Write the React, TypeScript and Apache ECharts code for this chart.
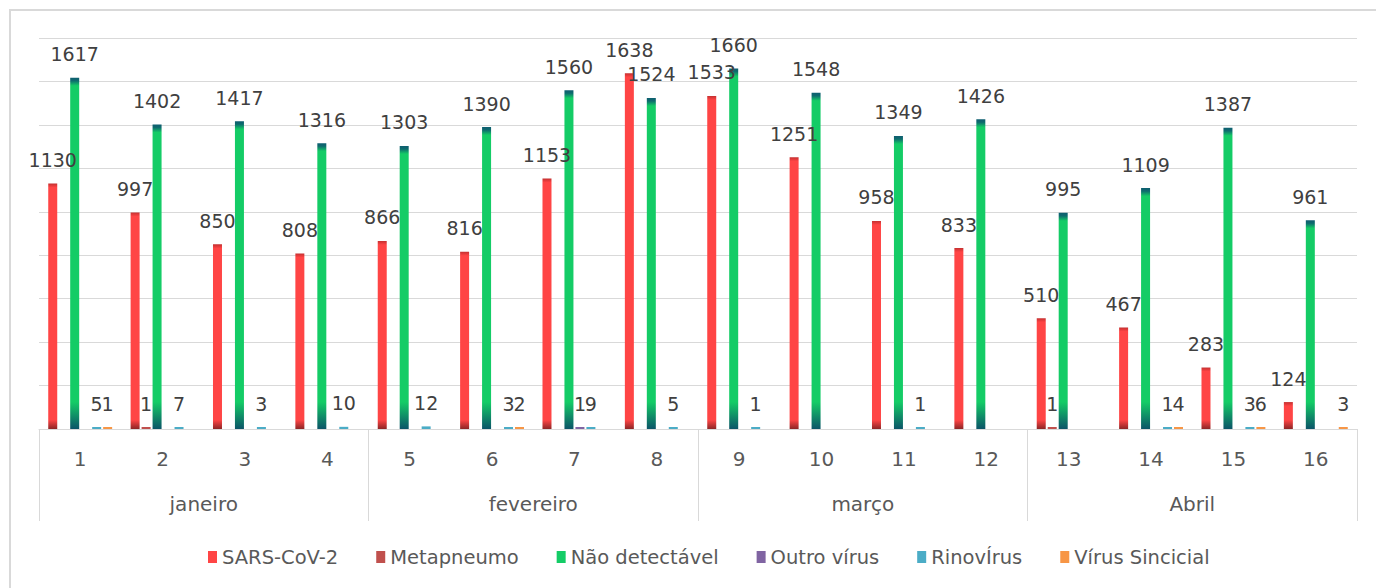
import React, { useEffect, useRef } from "react";
import * as echarts from "echarts";

const weeks = ["1", "2", "3", "4", "5", "6", "7", "8", "9", "10", "11", "12", "13", "14", "15", "16"];
const months = ["janeiro", "fevereiro", "março", "Abril"];
const seriesNames = ["SARS-CoV-2", "Metapneumo", "Não detectável", "Outro vírus", "RinovÍrus", "Vírus Sincicial"];

const sarsCov2 = [1130, 997, 850, 808, 866, 816, 1153, 1638, 1533, 1251, 958, 833, 510, 467, 283, 124];
const metapneumo = [0, 1, 0, 0, 0, 0, 0, 0, 0, 0, 0, 0, 1, 0, 0, 0];
const naoDetectavel = [1617, 1402, 1417, 1316, 1303, 1390, 1560, 1524, 1660, 1548, 1349, 1426, 995, 1109, 1387, 961];
const outroVirus = [0, 0, 0, 0, 0, 0, 1, 0, 0, 0, 0, 0, 0, 0, 0, 0];
const rinovirus = [5, 7, 3, 10, 12, 3, 9, 5, 1, 0, 1, 0, 0, 1, 3, 0];
const virusSincicial = [1, 0, 0, 0, 0, 2, 0, 0, 0, 0, 0, 0, 0, 4, 6, 3];

const Y_MAX = 1800;
const Y_INTERVAL = 200;
const GRID_TOP = 38;
const GRID_BOTTOM = 159;
const PLOT_H = 588 - GRID_TOP - GRID_BOTTOM;

const FONT = "DejaVu Sans";

function pxHeight(v: number) {
  return Math.max((v / Y_MAX) * PLOT_H, 1);
}

function redFill(v: number) {
  const h = pxHeight(v);
  const t = Math.min(0.3, 4 / h);
  const b = Math.min(0.45, 9 / h);
  return new echarts.graphic.LinearGradient(0, 0, 0, 1, [
    { offset: 0, color: "#C43030" },
    { offset: t, color: "#FF4545" },
    { offset: 1 - b, color: "#FF4545" },
    { offset: 1, color: "#8C2626" },
  ]);
}

function greenFill(v: number) {
  const h = pxHeight(v);
  const t1 = Math.min(0.2, 3 / h);
  const t2 = Math.min(0.3, 8 / h);
  const b = Math.min(0.5, 27 / h);
  return new echarts.graphic.LinearGradient(0, 0, 0, 1, [
    { offset: 0, color: "#0E5E70" },
    { offset: t1, color: "#0E6A6E" },
    { offset: t2, color: "#14CC66" },
    { offset: 1 - b, color: "#14CC66" },
    { offset: 1, color: "#0C5468" },
  ]);
}

const labelCfg = {
  show: true,
  position: "top",
  distance: 14,
  fontFamily: FONT,
  fontSize: 19,
  color: "#404040",
  formatter: (p: any) => (p.value > 0 ? String(p.value) : ""),
};

export default function App() {
  const ref = useRef<HTMLDivElement>(null);

  useEffect(() => {
    if (!ref.current) return;
    const chart = echarts.init(ref.current, null, { renderer: "svg" });

    const mk = (name: string, vals: number[], color: string, fill?: (v: number) => any) => ({
      name,
      type: "bar",
      xAxisIndex: 0,
      barWidth: 9,
      barGap: "22%",
      barMinHeight: fill ? 0 : 2,
      itemStyle: { color },
      label: labelCfg,
      data: vals.map((v) =>
        v > 0 ? (fill ? { value: v, itemStyle: { color: fill(v) } } : v) : null
      ),
    });

    chart.setOption({
      animation: false,
      textStyle: { fontFamily: FONT },
      graphic: [
        {
          type: "rect",
          shape: { x: 10, y: 10, width: 1400, height: 700 },
          style: { fill: "none", stroke: "#D9D9D9", lineWidth: 2 },
          silent: true,
        },
      ],
      legend: {
        left: 203,
        top: 542,
        icon: "rect",
        itemWidth: 9,
        itemHeight: 12,
        itemGap: 38,
        textStyle: { fontFamily: FONT, fontSize: 19.5, color: "#595959" },
        data: seriesNames,
      },
      grid: { left: 39, right: 19, top: GRID_TOP, bottom: GRID_BOTTOM, containLabel: false },
      xAxis: [
        {
          type: "category",
          data: weeks,
          position: "bottom",
          axisLine: { show: true, lineStyle: { color: "#D9D9D9", width: 1 } },
          axisTick: { show: false },
          axisLabel: { margin: 20, fontFamily: FONT, fontSize: 20, color: "#595959" },
        },
        {
          type: "category",
          data: months,
          position: "bottom",
          axisLine: { show: false },
          axisTick: { show: true, length: 92, alignWithLabel: false, lineStyle: { color: "#D9D9D9", width: 1 } },
          axisLabel: { margin: 65, fontFamily: FONT, fontSize: 20, color: "#595959" },
        },
      ],
      yAxis: {
        type: "value",
        min: 0,
        max: Y_MAX,
        interval: Y_INTERVAL,
        axisLabel: { show: false },
        axisLine: { show: false },
        axisTick: { show: false },
        splitLine: { lineStyle: { color: "#D9D9D9", width: 1 } },
      },
      series: [
        mk(seriesNames[0], sarsCov2, "#FF4545", redFill),
        mk(seriesNames[1], metapneumo, "#C0504D"),
        mk(seriesNames[2], naoDetectavel, "#14CC66", greenFill),
        mk(seriesNames[3], outroVirus, "#8064A2"),
        mk(seriesNames[4], rinovirus, "#4BACC6"),
        mk(seriesNames[5], virusSincicial, "#F79646"),
      ],
    });

    return () => chart.dispose();
  }, []);

  return (
    <div
      ref={ref}
      style={{ position: "fixed", left: 0, top: 0, width: 1376, height: 588, background: "#fff" }}
    />
  );
}
